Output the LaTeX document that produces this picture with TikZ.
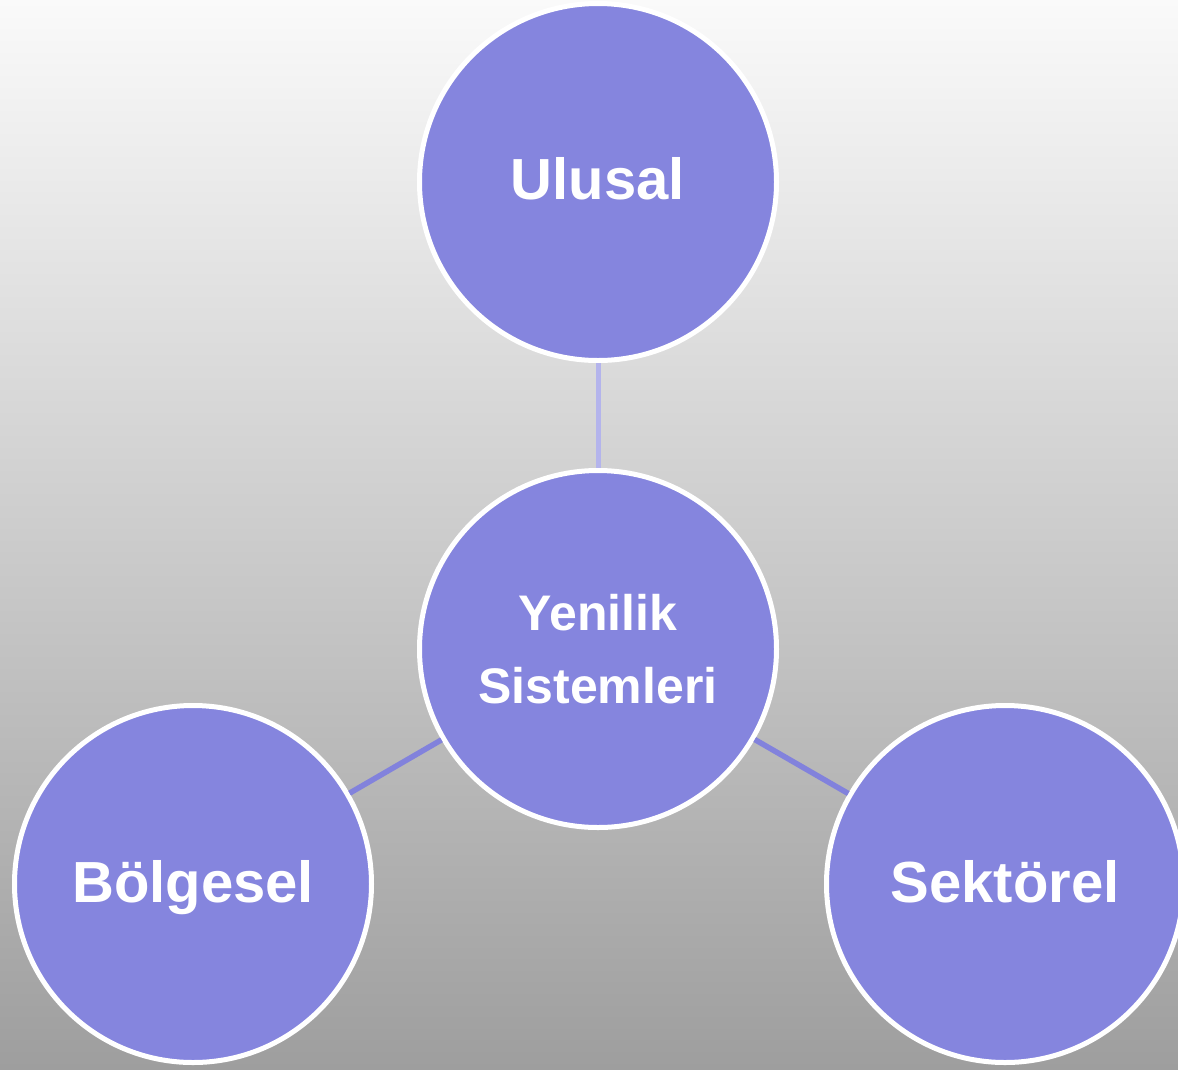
\documentclass[tikz,border=0pt]{standalone}
\usepackage{fontspec}
\setmainfont{Liberation Sans}
\definecolor{bubble}{RGB}{133,133,222}
\definecolor{linkA}{RGB}{180,180,236}
\definecolor{linkB}{RGB}{130,130,220}
\definecolor{bgtop}{RGB}{250,250,250}
\definecolor{bgbot}{RGB}{158,158,158}
\begin{document}
\begin{tikzpicture}[x=1pt,y=-1pt,
  bubble/.style={circle,fill=bubble,draw=white,line width=5pt,minimum size=357pt,inner sep=0pt},
  lbl/.style={text=white,font=\bfseries\fontsize{58}{60}\selectfont,anchor=base,inner sep=0pt},
  link/.style={line width=5.5pt,color=linkB},
  linkup/.style={line width=5pt,color=linkA}]
\shade[top color=bgtop,bottom color=bgbot] (0,0) rectangle (1178,1069);
\useasboundingbox (0,0) rectangle (1178,1069);
\node[bubble] (u) at (598,182) {};
\node[bubble] (c) at (598,649) {};
\node[bubble] (b) at (193,884) {};
\node[bubble] (s) at (1005,884) {};
\draw[linkup] (u) -- (c);
\draw[link] (c) -- (b);
\draw[link] (c) -- (s);
\node[lbl] (tu) at (598,199) {Ulusal};
\node[lbl] (tb) at (193,902) {Bölgesel};
\node[lbl] (ts) at (1005,902) {Sektörel};
\node[text=white,font=\bfseries\fontsize{50}{73}\selectfont,align=center,inner sep=0pt] (tc) at (598,649) {Yenilik\\Sistemleri};
\end{tikzpicture}
\end{document}
